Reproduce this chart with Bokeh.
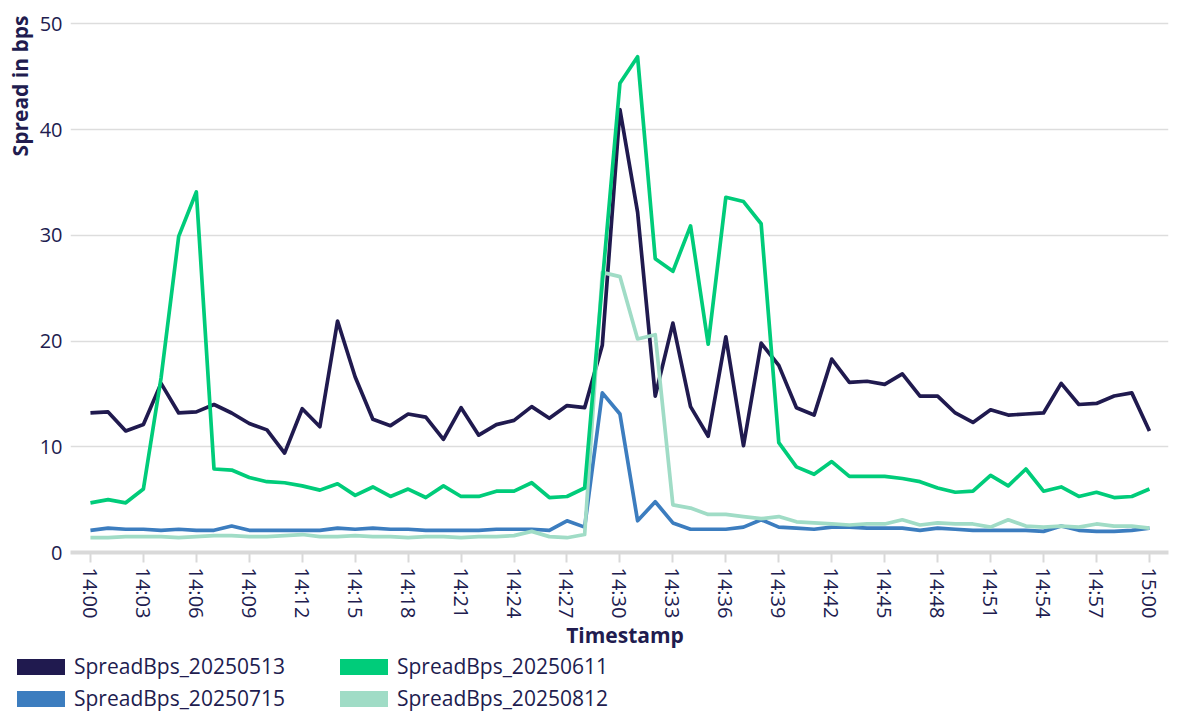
from bokeh.plotting import figure
from bokeh.layouts import column
from bokeh.models import Range1d, FixedTicker, ColumnDataSource, Div, Title
from bokeh.embed import file_html
from bokeh.resources import INLINE

TIMES = [f"{14 + m // 60}:{m % 60:02d}" for m in range(61)]
MINUTES = list(range(61))

SERIES_NAMES = ["SpreadBps_20250513", "SpreadBps_20250611", "SpreadBps_20250715", "SpreadBps_20250812"]
X_TITLE = "Timestamp"
Y_TITLE = "Spread in bps"

S_20250513 = [13.2, 13.3, 11.5, 12.1, 16.0, 13.2, 13.3, 14.0, 13.2, 12.2,
              11.6, 9.4, 13.6, 11.9, 21.9, 16.6, 12.6, 12.0, 13.1, 12.8,
              10.7, 13.7, 11.1, 12.1, 12.5, 13.8, 12.7, 13.9, 13.7, 19.6,
              41.9, 32.2, 14.8, 21.7, 13.8, 11.0, 20.4, 10.1, 19.8, 17.7,
              13.7, 13.0, 18.3, 16.1, 16.2, 15.9, 16.9, 14.8, 14.8, 13.2,
              12.3, 13.5, 13.0, 13.1, 13.2, 16.0, 14.0, 14.1, 14.8, 15.1,
              11.5]
S_20250611 = [4.7, 5.0, 4.7, 6.0, 16.5, 29.9, 34.1, 7.9, 7.8, 7.1,
              6.7, 6.6, 6.3, 5.9, 6.5, 5.4, 6.2, 5.3, 6.0, 5.2,
              6.3, 5.3, 5.3, 5.8, 5.8, 6.6, 5.2, 5.3, 6.1, 25.5,
              44.4, 46.9, 27.8, 26.6, 30.9, 19.7, 33.6, 33.2, 31.1, 10.4,
              8.1, 7.4, 8.6, 7.2, 7.2, 7.2, 7.0, 6.7, 6.1, 5.7,
              5.8, 7.3, 6.3, 7.9, 5.8, 6.2, 5.3, 5.7, 5.2, 5.3,
              6.0]
S_20250715 = [2.1, 2.3, 2.2, 2.2, 2.1, 2.2, 2.1, 2.1, 2.5, 2.1,
              2.1, 2.1, 2.1, 2.1, 2.3, 2.2, 2.3, 2.2, 2.2, 2.1,
              2.1, 2.1, 2.1, 2.2, 2.2, 2.2, 2.1, 3.0, 2.4, 15.1,
              13.1, 3.0, 4.8, 2.8, 2.2, 2.2, 2.2, 2.4, 3.1, 2.4,
              2.3, 2.2, 2.4, 2.4, 2.3, 2.3, 2.3, 2.1, 2.3, 2.2,
              2.1, 2.1, 2.1, 2.1, 2.0, 2.5, 2.1, 2.0, 2.0, 2.1,
              2.3]
S_20250812 = [1.4, 1.4, 1.5, 1.5, 1.5, 1.4, 1.5, 1.6, 1.6, 1.5,
              1.5, 1.6, 1.7, 1.5, 1.5, 1.6, 1.5, 1.5, 1.4, 1.5,
              1.5, 1.4, 1.5, 1.5, 1.6, 2.0, 1.5, 1.4, 1.7, 26.5,
              26.1, 20.2, 20.6, 4.5, 4.2, 3.6, 3.6, 3.4, 3.2, 3.4,
              2.9, 2.8, 2.7, 2.6, 2.7, 2.7, 3.1, 2.6, 2.8, 2.7,
              2.7, 2.4, 3.1, 2.5, 2.4, 2.5, 2.4, 2.7, 2.5, 2.5,
              2.3]

COLORS = ["#201A4F", "#00CC7A", "#3C7DBF", "#A0DCC6"]
TEXT = "#211C4F"
FONT = "Open Sans"

TICKS = list(range(0, 61, 3))
Y_TICKS = [0, 10, 20, 30, 40, 50]

p = figure(width=1170, height=621, output_backend="svg", toolbar_location=None,
           x_range=Range1d(-1.13, 61.08), y_range=Range1d(0, 50.8),
           min_border_left=70, min_border_right=2, min_border_top=15, min_border_bottom=0)
p.outline_line_color = None
p.background_fill_color = "white"

series = [S_20250513, S_20250611, S_20250715, S_20250812]
for i in [0, 2, 3, 1]:
    src = ColumnDataSource(dict(x=MINUTES, y=series[i]))
    p.line("x", "y", source=src, line_color=COLORS[i], line_width=3.7, line_join="round")

# axes
xa = p.xaxis[0]
xa.ticker = FixedTicker(ticks=TICKS)
xa.major_label_overrides = {t: TIMES[t] for t in TICKS}
xa.major_label_orientation = "vertical"
xa.major_label_text_font = FONT
xa.major_label_text_font_size = "20px"
xa.major_label_text_color = TEXT
xa.major_label_standoff = 5
xa.major_tick_out = 10
xa.major_tick_in = 0
xa.major_tick_line_color = "#D9D9D9"
xa.major_tick_line_width = 2
xa.minor_tick_line_color = None
xa.axis_line_color = "#D9D9D9"
xa.axis_line_width = 4

ya = p.yaxis[0]
ya.ticker = FixedTicker(ticks=Y_TICKS)
ya.axis_line_color = None
ya.major_tick_line_color = None
ya.major_tick_out = 0
ya.major_tick_in = 0
ya.minor_tick_line_color = None
ya.minor_tick_out = 0
ya.major_label_text_font = FONT
ya.major_label_text_font_size = "20px"
ya.major_label_text_color = TEXT
ya.major_label_standoff = 8

# y-axis title, aligned to the top of the plot area
p.add_layout(Title(text=Y_TITLE, align="right", text_font=FONT, text_font_size="21px",
                   text_font_style="bold", text_color=TEXT, standoff=6), "left")

p.xgrid.grid_line_color = None
p.ygrid.grid_line_color = "#DDDDDD"
p.ygrid.grid_line_width = 1.5

# strip below the chart: x-axis title and legend (HTML)
row_tops = [31, 31, 63, 63]
col_lefts = [17, 340, 17, 340]
parts = [f'<div style="position:absolute;left:625px;top:0px;transform:translateX(-50%);'
         f'font-weight:700;white-space:nowrap;">{X_TITLE}</div>']
for i in range(4):
    parts.append(
        f'<div style="position:absolute;left:{col_lefts[i]}px;top:{row_tops[i] + 7}px;'
        f'width:48px;height:16px;background:{COLORS[i]};"></div>'
        f'<div style="position:absolute;left:{col_lefts[i] + 57}px;top:{row_tops[i]}px;'
        f'white-space:nowrap;">{SERIES_NAMES[i]}</div>')
html = ('<div style="position:relative;width:1170px;height:89px;">' + "".join(parts) + '</div>')

legend_div = Div(text=html, width=1170, height=89,
                 styles={"font-family": "'Open Sans'", "font-size": "21px",
                         "line-height": "28px", "color": TEXT, "margin": "0", "padding": "0"})

layout = column(p, legend_div, spacing=0)
open("out.html", "w").write(file_html(layout, INLINE))
